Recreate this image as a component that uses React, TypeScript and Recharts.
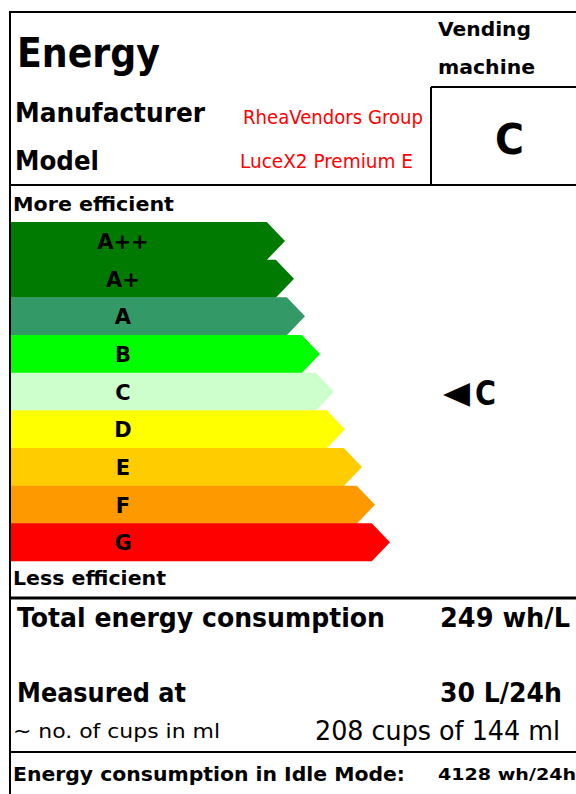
import React from 'react';
import { BarChart, Bar, XAxis, YAxis, Cell, Customized } from 'recharts';

const classes = ['A++', 'A+', 'A', 'B', 'C', 'D', 'E', 'F', 'G'];
const barLengths = [274, 283, 294, 309, 323, 334, 351, 364, 379];
const classColors = ['#007a00', '#007a00', '#339966', '#00ff00', '#ccffcc', '#ffff00', '#ffcc00', '#ff9900', '#ff0000'];
const rating = 'C';
const manufacturer = 'RheaVendors Group';
const model = 'LuceX2 Premium E';
const totalConsumption = '249 wh/L';
const measuredAt = '30 L/24h';
const cups = '208 cups of 144 ml';
const idleConsumption = '4128 wh/24h';

const data = classes.map((cls, i) => ({ cls, value: barLengths[i], color: classColors[i] }));

const FONT = 'DejaVu Sans';

const ArrowShape = (props: any) => {
  const { x, y, width, height, payload } = props;
  const tip = height * 0.48;
  const end = x + width;
  const pts = [
    [x, y],
    [end - tip, y],
    [end, y + height / 2],
    [end - tip, y + height],
    [x, y + height],
  ]
    .map((p) => p.join(','))
    .join(' ');
  return (
    <g>
      <polygon points={pts} fill={payload.color} />
      <text
        x={x + 112}
        y={y + height / 2 + 8}
        textAnchor="middle"
        fontFamily={FONT}
        fontWeight="bold"
        fontSize={21}
        fill="#000"
      >
        {payload.cls}
      </text>
    </g>
  );
};

const T = ({ x, y, size, w, bold, color, anchor, children }: any) => (
  <text
    x={x}
    y={y}
    fontFamily={FONT}
    fontSize={size}
    fontWeight={bold ? 'bold' : 'normal'}
    fill={color || '#000'}
    textAnchor={anchor || 'start'}
    textLength={w}
    lengthAdjust={w ? 'spacingAndGlyphs' : undefined}
  >
    {children}
  </text>
);

const LabelFrame = () => (
  <g>
    <line x1={9} y1={12} x2={576} y2={12} stroke="#000" strokeWidth={2} />
    <line x1={10} y1={12} x2={10} y2={794} stroke="#000" strokeWidth={2} />
    <line x1={9} y1={185} x2={576} y2={185} stroke="#000" strokeWidth={2} />
    <line x1={431} y1={87} x2={431} y2={185} stroke="#000" strokeWidth={2} />
    <line x1={431} y1={87} x2={576} y2={87} stroke="#000" strokeWidth={2} />
    <line x1={9} y1={598} x2={576} y2={598} stroke="#000" strokeWidth={3} />
    <line x1={9} y1={752} x2={576} y2={752} stroke="#000" strokeWidth={2} />

    <T x={17} y={67} size={40} bold w={143}>Energy</T>
    <T x={438} y={36} size={20} bold w={93}>Vending</T>
    <T x={438} y={74} size={20} bold w={97}>machine</T>
    <T x={15} y={122} size={26} bold w={190}>Manufacturer</T>
    <T x={15} y={170} size={26} bold w={84}>Model</T>
    <T x={243} y={124} size={19} color="#ff0000" w={180}>{manufacturer}</T>
    <T x={240} y={168} size={19} color="#ff0000" w={173}>{model}</T>
    <T x={495} y={154} size={43} bold w={29}>{rating}</T>

    <T x={13} y={211} size={20} bold w={161}>More efficient</T>
    <T x={13} y={585} size={20} bold w={153}>Less efficient</T>
    <T x={443} y={403} size={31} w={27}>{'\u25C0'}</T>
    <T x={475} y={405} size={33} bold w={21}>{rating}</T>

    <T x={17} y={627} size={26} bold w={368}>Total energy consumption</T>
    <T x={440} y={627} size={26} bold w={130}>{totalConsumption}</T>
    <T x={17} y={702} size={26} bold w={169}>Measured at</T>
    <T x={440} y={702} size={26} bold w={122}>{measuredAt}</T>
    <T x={13} y={738} size={20} w={207}>~ no. of cups in ml</T>
    <T x={315} y={740} size={27} w={245}>{cups}</T>
    <T x={13} y={781} size={19} bold w={392}>Energy consumption in Idle Mode:</T>
    <T x={438} y={780} size={16} bold w={138}>{idleConsumption}</T>
  </g>
);

export default function App() {
  return (
    <div style={{ position: 'absolute', left: 0, top: 0, width: 576, height: 794, background: '#fff' }}>
      <BarChart
        width={576}
        height={794}
        data={data}
        layout="vertical"
        margin={{ top: 222, right: 0, bottom: 233, left: 11 }}
        barCategoryGap={0}
      >
        <XAxis type="number" domain={[0, 565]} hide />
        <YAxis type="category" dataKey="cls" hide width={0} />
        <Bar dataKey="value" shape={ArrowShape} isAnimationActive={false}>
          {data.map((d) => (
            <Cell key={d.cls} fill={d.color} />
          ))}
        </Bar>
        <Customized component={LabelFrame} />
      </BarChart>
    </div>
  );
}
